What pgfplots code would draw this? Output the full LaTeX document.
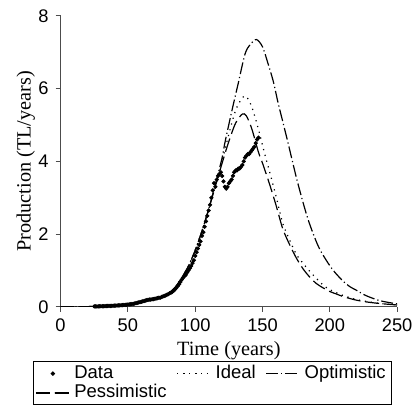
\documentclass[border=0pt]{standalone}
\usepackage{pgfplots}
\pgfplotsset{compat=1.18}
\usepackage{fontspec}
\setmainfont{Liberation Sans}
\newfontfamily\seriffont{Liberation Serif}
\begin{document}
\begin{tikzpicture}
\begin{axis}[
  name=ax,
  scale only axis,
  width=169.5pt, height=146.5pt,
  xmin=0, xmax=250, ymin=0, ymax=8,
  xtick={0,50,100,150,200,250},
  ytick={0,2,4,6,8},
  axis lines*=left,
  axis line style={black!70, line width=0.7pt},
  tick align=outside,
  major tick length=2.5pt,
  tick style={black!70, line width=0.5pt},
  /pgf/number format/assume math mode=true,
  tick label style={font=\fontsize{9.2}{11}\selectfont},
  xlabel={\seriffont Time (years)},
  ylabel={\seriffont Production (TL/years)},
  label style={font=\fontsize{10.2}{12}\selectfont},
  xlabel style={yshift=2pt},
  ylabel style={at={(axis description cs:-0.103,0.5)}, anchor=center},
  legend columns=3,
  legend cell align=left,
  legend style={at={(-0.0826,-0.1877)}, anchor=north west,
    font=\fontsize{9.3}{10}\selectfont, draw=black, line width=0.5pt,
    inner sep=1pt, row sep=0pt,
    nodes={inner ysep=0.5pt, text height=6.8pt, text depth=2pt},
    /tikz/every even column/.append style={column sep=3pt}},
]
\addplot[only marks, mark=*, mark size=0.85pt, black] coordinates {
(25,0.01)(26,0.01)(27,0.01)(28,0.012)(29,0.013)(30,0.015)(31,0.016)(32,0.017)(33,0.018)(34,0.02)
(35,0.022)(36,0.024)(37,0.025)(38,0.027)(39,0.03)(40,0.032)(41,0.034)(42,0.036)(43,0.038)(44,0.04)
(45,0.043)(46,0.046)(47,0.05)(48,0.053)(49,0.056)(50,0.06)(51,0.065)(52,0.07)(53,0.075)(54,0.08)
(55,0.09)(56,0.1)(57,0.11)(58,0.12)(59,0.13)(60,0.14)(61,0.15)(62,0.16)(63,0.17)(64,0.18)
(65,0.19)(66,0.2)(67,0.2)(68,0.21)(69,0.21)(70,0.22)(71,0.23)(72,0.24)(73,0.25)(74,0.25)
(75,0.27)(76,0.28)(77,0.3)(78,0.31)(79,0.33)(80,0.35)(81,0.37)(82,0.39)(83,0.41)(84,0.44)
(85,0.48)(86,0.52)(87,0.57)(88,0.62)(89,0.68)(90,0.75)(91,0.8)(92,0.84)(93,0.88)(94,0.94)
(95,1.0)(96,1.06)(97,1.12)(98,1.2)(99,1.28)(100,1.4)(101,1.5)(102,1.6)(103,1.7)(104,1.8)
(105,1.95)(106,2.05)(107,2.2)(108,2.35)(109,2.5)(110,2.65)(111,2.8)(112,3.0)(113,3.2)(114,3.4)
(115,3.3)(116,3.5)(117,3.6)(118,3.65)(119,3.7)(120,3.6)(121,3.45)(122,3.3)(123,3.25)(124,3.3)
(125,3.4)(126,3.45)(127,3.5)(128,3.6)(129,3.7)(130,3.75)(131,3.75)(132,3.8)(133,3.8)(134,3.85)
(135,3.9)(136,4.0)(137,4.1)(138,4.15)(139,4.2)(140,4.2)(141,4.25)(142,4.3)(143,4.35)(144,4.4)
(145,4.5)(146,4.6)(147,4.65)
};
\addlegendentry{Data}
\addplot[black, line width=0.6pt, dash pattern=on 0.6pt off 2.4pt, smooth] coordinates {
(0,0)(10,0.002)(20,0.005)(30,0.01)(40,0.025)(50,0.06)(60,0.12)(65,0.17)(70,0.21)(75,0.28)
(80,0.37)(85,0.53)(90,0.8)(95,1.12)(100,1.55)(105,2.08)(110,2.68)(115,3.32)(120,4.0)
(125,4.75)(130,5.4)(135,5.75)(138,5.78)(142,5.5)(147,4.88)(152,4.15)(155,3.75)(160,3.05)
(165,2.3)(170,1.85)(175,1.45)(180,1.2)(185,0.98)(190,0.78)(195,0.6)(200,0.47)(210,0.31)
(220,0.2)(230,0.13)(240,0.08)(250,0.05)
};
\addlegendentry{Ideal}
\addplot[black, line width=0.6pt, dash pattern=on 6pt off 1.5pt on 0.6pt off 1.5pt, smooth] coordinates {
(0,0)(10,0.002)(20,0.005)(30,0.01)(40,0.025)(50,0.06)(60,0.12)(65,0.17)(70,0.21)(75,0.28)
(80,0.37)(85,0.53)(90,0.8)(95,1.12)(100,1.55)(105,2.08)(110,2.68)(115,3.37)(120,4.1)
(122,4.5)(127,5.35)(132,6.15)(137,6.95)(141,7.22)(145.5,7.35)(150,7.15)(154,6.7)(158,6.2)
(161.5,5.62)(165,5.1)(169,4.5)(176,3.43)(183.6,2.43)(191,1.7)(197,1.3)(203,0.98)(210,0.7)
(215,0.55)(220,0.45)(225,0.34)(230,0.26)(237,0.17)(245,0.11)(250,0.08)
};
\addlegendentry{Optimistic}
\addplot[black, line width=0.6pt, dash pattern=on 7pt off 2.5pt, smooth] coordinates {
(0,0)(10,0.002)(20,0.005)(30,0.01)(40,0.025)(50,0.06)(60,0.12)(65,0.17)(70,0.21)(75,0.28)
(80,0.37)(85,0.53)(90,0.8)(95,1.12)(100,1.55)(105,2.08)(110,2.68)(115,3.32)(120,3.95)
(125,4.55)(130,5.05)(135,5.3)(138,5.25)(142,4.9)(147,4.25)(150,3.95)(155,3.4)(160,2.8)
(165,2.15)(170,1.72)(175,1.35)(180,1.05)(185,0.82)(190,0.64)(195,0.52)(200,0.42)(205,0.35)
(210,0.28)(220,0.18)(230,0.12)(240,0.08)(250,0.05)
};
\addlegendentry{Pessimistic}
\end{axis}
\path ([shift={(-30.5pt,-51.5pt)}]ax.south west) ([shift={(9.5pt,8pt)}]ax.north east);
\end{tikzpicture}
\end{document}
